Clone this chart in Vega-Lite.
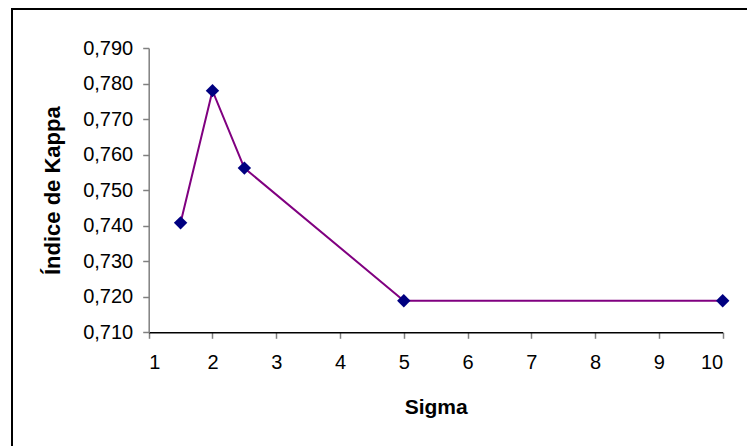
{
  "$schema": "https://vega.github.io/schema/vega-lite/v6.json",
  "autosize": "none",
  "padding": {"left": 12, "top": 9, "right": 0, "bottom": 0},
  "width": 760,
  "height": 460,
  "background": "white",
  "config": {
    "view": {"stroke": "black", "strokeWidth": 2},
    "font": "Liberation Sans"
  },
  "data": {
    "values": [
      {"sigma": 1.5, "kappa": 0.7408},
      {"sigma": 2, "kappa": 0.778},
      {"sigma": 2.5, "kappa": 0.7562},
      {"sigma": 5, "kappa": 0.7189},
      {"sigma": 10, "kappa": 0.7189}
    ]
  },
  "encoding": {
    "x": {
      "field": "sigma",
      "type": "quantitative",
      "title": "Sigma",
      "scale": {"domain": [1, 10], "nice": false, "zero": false, "range": [136.7, 710.7]},
      "axis": {
        "values": [1, 2, 3, 4, 5, 6, 7, 8, 9, 10],
        "format": "d",
        "grid": false,
        "offset": -136.7,
        "domainColor": "black",
        "domainWidth": 1.5,
        "tickColor": "#808080",
        "tickWidth": 1.5,
        "tickSize": 6,
        "labelFont": "Liberation Sans",
        "labelFontSize": 20,
        "labelColor": "black",
        "labelPadding": 14,
        "titleFont": "Liberation Sans",
        "titleFontSize": 21,
        "titleFontWeight": "bold",
        "titleColor": "black",
        "titlePadding": 24
      }
    },
    "y": {
      "field": "kappa",
      "type": "quantitative",
      "title": "Índice de Kappa",
      "scale": {"domain": [0.71, 0.79], "nice": false, "zero": false, "range": [323.3, 39]},
      "axis": {
        "values": [0.71, 0.72, 0.73, 0.74, 0.75, 0.76, 0.77, 0.78, 0.79],
        "labelExpr": "replace(format(datum.value, '.3f'), '.', ',')",
        "grid": false,
        "offset": -136.7,
        "domainColor": "#808080",
        "domainWidth": 1.5,
        "tickColor": "#808080",
        "tickWidth": 1.5,
        "tickSize": 6,
        "labelFont": "Liberation Sans",
        "labelFontSize": 20,
        "labelColor": "black",
        "labelPadding": 10,
        "titleFont": "Liberation Sans",
        "titleFontSize": 22,
        "titleFontWeight": "bold",
        "titleColor": "black",
        "titlePadding": 18
      }
    }
  },
  "layer": [
    {"mark": {"type": "line", "color": "#800080", "strokeWidth": 2}},
    {"mark": {"type": "point", "shape": "diamond", "filled": true, "color": "#000080", "size": 180, "opacity": 1}}
  ]
}
